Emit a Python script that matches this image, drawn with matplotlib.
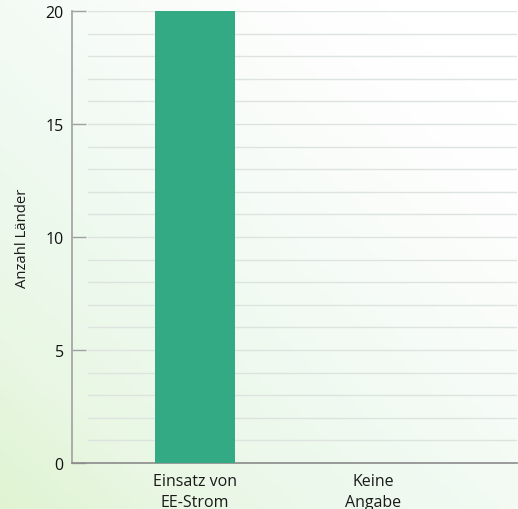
import numpy as np
import matplotlib
matplotlib.use("Agg")
import matplotlib.pyplot as plt
from matplotlib.colors import LinearSegmentedColormap

categories = ["Einsatz von\nEE-Strom", "Keine\nAngabe"]
counts = [20, 0]
y_ticks = [0, 5, 10, 15, 20]
y_label = "Anzahl Länder"

plt.rcParams["font.family"] = ["Open Sans", "DejaVu Sans"]

W, H, DPI = 518, 510, 100
fig = plt.figure(figsize=(W / DPI, H / DPI), dpi=DPI)

# soft green-to-white background wash
bg = fig.add_axes([0, 0, 1, 1], zorder=-10)
yy, xx = np.mgrid[0:1:200j, 0:1:200j]
t = np.clip(0.55 * xx + 0.60 * (1 - yy), 0, 1)  # 0 at bottom-left, 1 at top-right
cmap = LinearSegmentedColormap.from_list(
    "wash", ["#e0f4d2", "#e9f7e4", "#eef9ee", "#f4fbf5", "#fbfdfb", "#ffffff"])
bg.imshow(t, cmap=cmap, origin="upper", aspect="auto", extent=[0, 1, 0, 1],
          vmin=0, vmax=1.0)
bg.axis("off")

ax = fig.add_axes([72 / W, 1 - 464 / H, (517 - 72) / W, (464 - 12) / H])
ax.patch.set_alpha(0)

x = np.arange(len(categories))
ax.set_xlim(-0.69, 1.81)
ax.set_ylim(0, 20)

# horizontal grid lines at every unit, starting a little right of the axis
for v in range(1, 21):
    ax.axhline(v, xmin=(-0.6 + 0.69) / 2.5, xmax=1, color="#dde4df",
               lw=1.0, zorder=1)

ax.bar(x, counts, width=0.45, color="#33aa84", zorder=3)

ax.set_yticks(y_ticks)
ax.set_xticks(x)
ax.set_xticklabels(categories, fontsize=11.5, color="#1a1a1a", linespacing=1.45)
ax.tick_params(axis="y", direction="in", length=10, width=1, color="#a0a0a0",
               labelsize=11.5, labelcolor="#111111", pad=6)
ax.tick_params(axis="x", length=0, pad=7)

for s in ["top", "right"]:
    ax.spines[s].set_visible(False)
ax.spines["left"].set_color("#a0a0a0")
ax.spines["bottom"].set_color("#8a8a8a")
ax.spines["left"].set_linewidth(1.2)
ax.spines["bottom"].set_linewidth(1.2)

ax.set_ylabel(y_label, fontsize=10.7, color="#1a1a1a", labelpad=11)

fig.savefig("out.png", dpi=DPI)
